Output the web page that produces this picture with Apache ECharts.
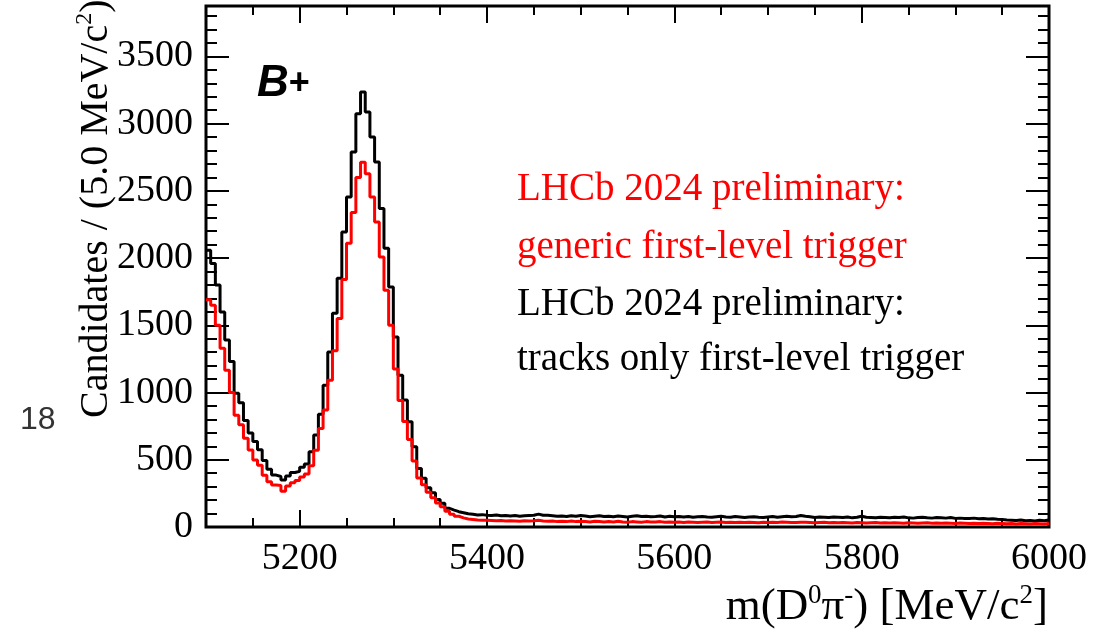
<!DOCTYPE html>
<html>
<head>
<meta charset="utf-8">
<script src="https://cdn.jsdelivr.net/npm/echarts@6/dist/echarts.min.js"></script>
<style>
  html, body { margin: 0; padding: 0; background: #ffffff; }
  #chart { width: 1111px; height: 633px; }
</style>
</head>
<body>
<div id="chart"></div>
<script>
// Binning of the m(D0 pi-) histogram: 5 MeV bins from 5100 to 6000
const binStart = 5100;
const binWidth = 5;
const massMin = 5100;
const massMax = 6000;
const countMin = 0;
const countMax = 3875;

const xMajorTicks = [5200, 5400, 5600, 5800, 6000];
const yMajorTicks = [0, 500, 1000, 1500, 2000, 2500, 3000, 3500];

// Candidates per bin, tracks-only first-level trigger (black)
const tracksOnly = [
  2058, 1960, 1800, 1600, 1390, 1230, 995, 925, 792, 700,
  636, 575, 495, 430, 386, 376, 349, 380, 405, 414,
  445, 468, 560, 685, 838, 1055, 1302, 1590, 1850, 2194,
  2454, 2789, 3074, 3235, 3086, 2900, 2714, 2368, 2073, 1785,
  1414, 1129, 944, 782, 597, 436, 362, 292, 255, 205,
  176, 139, 126, 114, 106, 98, 95, 90, 92, 88,
  86, 90, 84, 86, 82, 85, 80, 84, 86, 88,
  96, 88, 88, 84, 80, 82, 78, 84, 80, 86,
  82, 76, 80, 84, 78, 80, 76, 82, 78, 74,
  80, 84, 78, 80, 76, 78, 82, 74, 80, 76,
  78, 74, 78, 72, 76, 78, 74, 72, 76, 80,
  74, 72, 78, 74, 70, 74, 76, 72, 70, 74,
  78, 72, 76, 80, 76, 78, 86, 80, 76, 70,
  74, 72, 70, 74, 72, 70, 74, 68, 72, 80,
  72, 70, 68, 72, 70, 68, 72, 70, 74, 68,
  66, 70, 72, 68, 66, 70, 68, 66, 70, 64,
  66, 64, 64, 66, 62, 64, 60, 62, 58, 56,
  52, 50, 48, 52, 46, 48, 44, 50, 46, 52
];

// Candidates per bin, generic first-level trigger (red)
const generic = [
  1690, 1650, 1500, 1330, 1165, 1000, 832, 760, 661, 572,
  498, 460, 385, 337, 312, 308, 265, 305, 330, 345,
  372, 395, 455, 570, 733, 870, 1092, 1310, 1550, 1840,
  2110, 2340, 2600, 2712, 2628, 2454, 2268, 2008, 1761, 1500,
  1175, 940, 785, 650, 490, 365, 315, 258, 218, 178,
  150, 118, 95, 80, 68, 60, 56, 52, 50, 50,
  48, 46, 48, 44, 46, 44, 42, 46, 44, 46,
  50, 44, 42, 44, 40, 42, 40, 44, 40, 42,
  40, 38, 42, 40, 38, 40, 38, 42, 38, 36,
  40, 38, 36, 40, 38, 38, 40, 36, 38, 36,
  38, 34, 38, 36, 34, 36, 38, 34, 36, 38,
  34, 36, 34, 36, 34, 36, 34, 32, 36, 34,
  36, 34, 38, 36, 34, 34, 36, 36, 34, 32,
  34, 36, 32, 34, 32, 34, 32, 30, 34, 32,
  30, 32, 34, 30, 32, 30, 32, 30, 28, 32,
  30, 28, 30, 32, 28, 30, 28, 30, 28, 26,
  30, 28, 26, 28, 26, 28, 26, 24, 28, 26,
  24, 26, 22, 26, 24, 22, 26, 24, 22, 26
];

// Minor tick positions: every 50 MeV and every 100 candidates
const xMinorTicks = [];
for (let v = massMin; v <= massMax; v += 50) xMinorTicks.push(v);
const yMinorTicks = [];
for (let v = 100; v < countMax; v += 100) yMinorTicks.push(v);

// Histogram outline: one point at each lower bin edge plus the closing edge
function histogramSteps(values) {
  const pts = values.map((v, i) => [binStart + i * binWidth, v]);
  pts.push([binStart + values.length * binWidth, values[values.length - 1]]);
  return pts;
}

const serif = '"Liberation Serif", "Times New Roman", serif';
const sans = '"Liberation Sans", Helvetica, Arial, sans-serif';

function tickAxis(kind, position, ticks, length, labels) {
  const axis = {
    type: 'value',
    position: position,
    min: kind === 'x' ? massMin : countMin,
    max: kind === 'x' ? massMax : countMax,
    axisLine: { show: false, onZero: false },
    splitLine: { show: false },
    axisTick: {
      show: true,
      inside: true,
      length: length,
      customValues: ticks,
      lineStyle: { color: '#000000', width: 2 }
    },
    axisLabel: { show: false }
  };
  if (labels) {
    axis.axisLabel = {
      show: true,
      customValues: labels,
      formatter: (v) => String(v),
      fontFamily: serif,
      fontSize: 38,
      color: '#000000',
      margin: 13
    };
  }
  return axis;
}

const chart = echarts.init(document.getElementById('chart'), null, { renderer: 'canvas' });

chart.setOption({
  animation: false,
  backgroundColor: '#ffffff',
  grid: {
    left: 206,
    right: 62,
    top: 6,
    bottom: 106,
    show: true,
    borderColor: '#000000',
    borderWidth: 3,
    containLabel: false,
    outerBoundsMode: 'none'
  },
  xAxis: [
    tickAxis('x', 'bottom', xMajorTicks, 17, xMajorTicks),
    tickAxis('x', 'bottom', xMinorTicks, 9),
    tickAxis('x', 'top', xMajorTicks, 17),
    tickAxis('x', 'top', xMinorTicks, 9)
  ],
  yAxis: [
    tickAxis('y', 'left', yMajorTicks, 23, yMajorTicks),
    tickAxis('y', 'left', yMinorTicks, 11),
    tickAxis('y', 'right', yMajorTicks, 23),
    tickAxis('y', 'right', yMinorTicks, 11)
  ],
  series: [
    {
      name: 'tracks only first-level trigger',
      type: 'line',
      step: 'end',
      xAxisIndex: 0,
      yAxisIndex: 0,
      data: histogramSteps(tracksOnly),
      symbol: 'none',
      lineStyle: { color: '#000000', width: 3 },
      itemStyle: { color: '#000000' },
      z: 3
    },
    {
      name: 'generic first-level trigger',
      type: 'line',
      step: 'end',
      xAxisIndex: 0,
      yAxisIndex: 0,
      data: histogramSteps(generic),
      symbol: 'none',
      lineStyle: { color: '#ff0000', width: 3 },
      itemStyle: { color: '#ff0000' },
      z: 4
    }
  ],
  graphic: [
    {
      type: 'text',
      x: 257, y: 84,
      style: {
        text: '{b|B}{p|+}',
        verticalAlign: 'middle',
        align: 'left',
        rich: {
          b: { fontFamily: sans, fontSize: 44, fontWeight: 'bold', fontStyle: 'italic', fill: '#000000' },
          p: { fontFamily: sans, fontSize: 36, fontWeight: 'bold', fill: '#000000' }
        }
      }
    },
    {
      type: 'text', x: 517, y: 190,
      style: { text: 'LHCb 2024 preliminary:', fontFamily: serif, fontSize: 39, fill: '#ff0000', align: 'left', verticalAlign: 'middle' }
    },
    {
      type: 'text', x: 517, y: 248,
      style: { text: 'generic first-level trigger', fontFamily: serif, fontSize: 39, fill: '#ff0000', align: 'left', verticalAlign: 'middle' }
    },
    {
      type: 'text', x: 517, y: 305,
      style: { text: 'LHCb 2024 preliminary:', fontFamily: serif, fontSize: 39, fill: '#000000', align: 'left', verticalAlign: 'middle' }
    },
    {
      type: 'text', x: 517, y: 360,
      style: { text: 'tracks only first-level trigger', fontFamily: serif, fontSize: 39, fill: '#000000', align: 'left', verticalAlign: 'middle' }
    },
    {
      type: 'text', x: 1048, y: 607,
      style: {
        text: 'm(D{s|0}π{s|-}) [MeV/c{s|2}]',
        fontFamily: serif, fontSize: 45, lineHeight: 50, fill: '#000000',
        align: 'right', verticalAlign: 'middle',
        rich: {
          s: { fontFamily: serif, fontSize: 27, lineHeight: 27, verticalAlign: 'top', fill: '#000000' }
        }
      }
    },
    {
      type: 'text', x: 96, y: 418, rotation: Math.PI / 2,
      style: {
        text: 'Candidates / (5.0 MeV/c{s|2})',
        fontFamily: serif, fontSize: 40, lineHeight: 46, fill: '#000000',
        align: 'left', verticalAlign: 'middle',
        rich: {
          s: { fontFamily: serif, fontSize: 24, lineHeight: 24, verticalAlign: 'top', fill: '#000000' }
        }
      }
    },
    {
      type: 'text', x: 20, y: 420,
      style: { text: '18', fontFamily: sans, fontSize: 32, fill: '#333333', align: 'left', verticalAlign: 'middle' }
    }
  ]
});
</script>
</body>
</html>
